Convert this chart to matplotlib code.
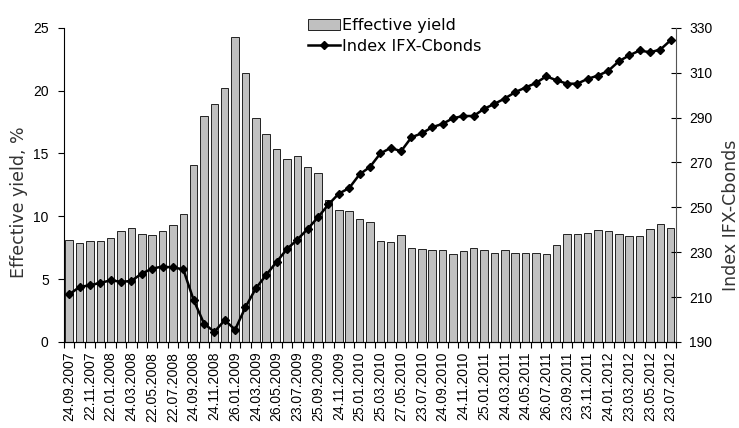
import numpy as np
import matplotlib
matplotlib.use('Agg')
import matplotlib.pyplot as plt
from matplotlib.patches import Patch
from matplotlib.lines import Line2D

# Data (monthly)
yield_pct = [8.13, 7.84, 8.05, 8.05, 8.24, 8.8, 9.04, 8.59, 8.51, 8.8,
             9.33, 10.19, 14.1, 17.97, 18.9, 20.19, 24.27, 21.39, 17.79, 16.59,
             15.39, 14.53, 14.83, 13.89, 13.41, 11.31, 10.53, 10.45, 9.79, 9.55,
             8.05, 7.97, 8.51, 7.49, 7.39, 7.31, 7.31, 6.99, 7.23, 7.49,
             7.31, 7.12, 7.31, 7.12, 7.12, 7.12, 7.01, 7.71, 8.59, 8.59,
             8.67, 8.91, 8.85, 8.59, 8.43, 8.43, 8.99, 9.36, 9.07]
index_ifx = [211.2, 214.5, 215.3, 216.3, 217.5, 216.8, 217.2, 220.5, 222.7, 223.6,
             223.2, 222.4, 208.7, 198.2, 194.5, 199.7, 195.5, 205.5, 213.9, 219.9,
             225.7, 231.4, 235.6, 240.4, 245.6, 251.3, 256.1, 258.6, 264.7, 268.0,
             274.0, 276.5, 275.0, 281.2, 283.0, 285.7, 287.2, 289.7, 290.7, 290.7,
             293.9, 296.1, 298.5, 301.3, 303.4, 305.4, 308.4, 306.6, 305.1, 305.1,
             307.3, 308.7, 310.9, 315.1, 317.7, 319.9, 319.1, 320.3, 324.5]
date_labels = ['24.09.2007', '22.11.2007', '22.01.2008', '24.03.2008', '22.05.2008',
               '22.07.2008', '24.09.2008', '24.11.2008', '26.01.2009', '24.03.2009',
               '26.05.2009', '23.07.2009', '25.09.2009', '24.11.2009', '25.01.2010',
               '25.03.2010', '27.05.2010', '23.07.2010', '24.09.2010', '24.11.2010',
               '25.01.2011', '24.03.2011', '24.05.2011', '26.07.2011', '23.09.2011',
               '23.11.2011', '24.01.2012', '23.03.2012', '23.05.2012', '23.07.2012']

x = np.arange(len(yield_pct))
lab_font = 'DejaVu Sans'
tick_font = 'Liberation Sans'

fig = plt.figure(figsize=(7.39, 4.28), dpi=100)
ax = fig.add_axes([0.0866, 0.201, 0.828, 0.734])
ax2 = ax.twinx()

ax.bar(x, yield_pct, width=0.72, color='#c0c0c0', edgecolor='#222222', linewidth=0.7, zorder=2)
ax2.plot(x, index_ifx, color='black', lw=1.8, marker='D', ms=4.2, zorder=3)

ax.set_xlim(-0.5, len(x) - 0.5)
ax.set_ylim(0, 25)
ax2.set_ylim(190, 330)
ax.set_yticks(range(0, 26, 5))
ax2.set_yticks(range(190, 331, 20))

# category boundary ticks, labels every second bar
ax.set_xticks(np.arange(-0.5, len(x), 1.0))
ax.set_xticklabels([])
ax.tick_params(axis='x', which='major', length=4, direction='out', width=0.8)
ax.set_xticks(x[::2], minor=True)
ax.set_xticklabels(date_labels, minor=True, rotation=90, fontsize=10, family=tick_font)
ax.tick_params(axis='x', which='minor', length=0, pad=7)

ax.tick_params(axis='y', length=4, width=0.8, direction='out', labelsize=10, pad=7)
ax2.tick_params(axis='y', length=7, width=0.8, direction='inout', labelsize=10, pad=6, colors='black')
for t in ax.get_yticklabels() + ax2.get_yticklabels():
    t.set_family(tick_font)

for a in (ax, ax2):
    a.spines['top'].set_visible(False)
ax2.spines['right'].set_color('#555555')
ax2.spines['left'].set_visible(False)
ax.spines['right'].set_visible(False)

# axis titles placed where the reference has them
fig.text(19 / 739, 1 - 202 / 428, 'Effective yield, %', rotation=90, ha='center', va='center',
         fontsize=12.5, family=lab_font, color='#333333')
fig.text(731 / 739, 1 - 215 / 428, 'Index IFX-Cbonds', rotation=90, ha='center', va='center',
         fontsize=12.5, family=lab_font, color='#333333')

handles = [Patch(facecolor='#c0c0c0', edgecolor='#222222', linewidth=0.7),
           Line2D([], [], color='black', lw=1.8, marker='D', ms=4.2)]
leg = fig.legend(handles, ['Effective yield', 'Index IFX-Cbonds'], loc='upper left',
                 bbox_to_anchor=(308 / 739, 1 - 18 / 428), frameon=False, handlelength=2.0,
                 handletextpad=0.15, labelspacing=0.35, borderaxespad=0, borderpad=0,
                 prop={'family': lab_font, 'size': 11.5})

fig.savefig('out.png', dpi=100)
